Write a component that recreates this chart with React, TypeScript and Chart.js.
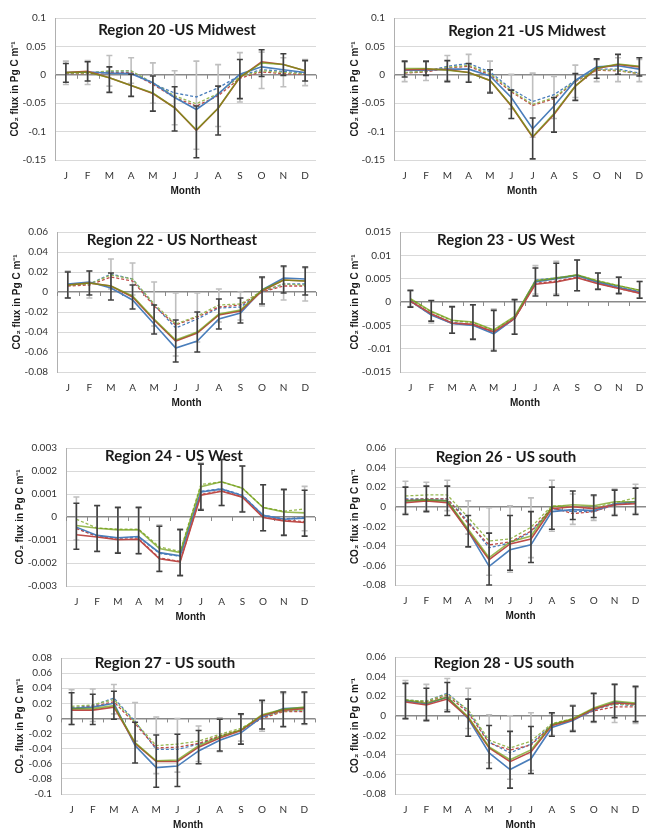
import React, { useEffect, useRef } from "react";
import { Chart, registerables } from "chart.js";
Chart.register(...registerables);

const months = ["J", "F", "M", "A", "M", "J", "J", "A", "S", "O", "N", "D"];

// Region 20
const r20SolidBlue = [0.004, 0.005, 0.003, 0.002, -0.014, -0.040, -0.061, -0.034, 0.001, 0.014, 0.009, 0.004];
const r20SolidRed = [0.004, 0.006, -0.005, -0.019, -0.033, -0.058, -0.098, -0.059, -0.005, 0.023, 0.018, 0.007];
const r20SolidGreen = [0.004, 0.005, -0.005, -0.019, -0.032, -0.058, -0.097, -0.059, -0.004, 0.021, 0.018, 0.007];
const r20DashBlue = [0.002, 0.003, 0.006, 0.007, -0.016, -0.032, -0.039, -0.023, -0.001, 0.009, 0.006, 0.003];
const r20DashRed = [0.002, 0.002, 0.004, 0.004, -0.017, -0.040, -0.055, -0.037, -0.006, 0.005, 0.002, 0.001];
const r20DashGreen = [0.003, 0.003, 0.007, 0.007, -0.014, -0.037, -0.051, -0.033, -0.003, 0.007, 0.004, 0.002];
const r20DarkLo = [-0.013, -0.011, -0.031, -0.038, -0.064, -0.099, -0.146, -0.106, -0.042, -0.003, -0.001, -0.011];
const r20DarkHi = [0.020, 0.023, 0.014, 0.001, -0.002, -0.021, -0.055, -0.020, 0.027, 0.044, 0.037, 0.025];
const r20LightLo = [-0.017, -0.017, -0.020, -0.015, -0.050, -0.088, -0.131, -0.091, -0.048, -0.024, -0.021, -0.019];
const r20LightHi = [0.024, 0.025, 0.034, 0.030, 0.021, 0.007, 0.024, 0.018, 0.039, 0.040, 0.030, 0.027];

// Region 21
const r21SolidBlue = [0.008, 0.008, 0.010, 0.010, -0.002, -0.040, -0.095, -0.055, -0.010, 0.014, 0.016, 0.010];
const r21SolidRed = [0.009, 0.010, 0.009, 0.004, -0.010, -0.055, -0.110, -0.070, -0.020, 0.011, 0.018, 0.014];
const r21SolidGreen = [0.011, 0.011, 0.008, 0.004, -0.010, -0.054, -0.109, -0.068, -0.020, 0.012, 0.019, 0.015];
const r21DashBlue = [0.004, 0.006, 0.015, 0.020, 0.005, -0.025, -0.047, -0.035, -0.010, 0.010, 0.010, 0.003];
const r21DashRed = [0.003, 0.005, 0.012, 0.015, 0.000, -0.030, -0.054, -0.042, -0.012, 0.008, 0.007, 0.002];
const r21DashGreen = [0.004, 0.006, 0.013, 0.017, 0.002, -0.028, -0.052, -0.040, -0.011, 0.009, 0.008, 0.002];
const r21DarkLo = [-0.004, -0.001, -0.012, -0.013, -0.032, -0.077, -0.148, -0.101, -0.045, -0.006, 0.001, -0.002];
const r21DarkHi = [0.024, 0.024, 0.025, 0.020, 0.009, -0.027, -0.076, -0.040, 0.002, 0.028, 0.036, 0.030];
const r21LightLo = [-0.012, -0.010, -0.010, -0.012, -0.030, -0.060, -0.110, -0.077, -0.040, -0.012, -0.012, -0.012];
const r21LightHi = [0.022, 0.022, 0.034, 0.036, 0.024, 0.001, 0.003, -0.003, 0.017, 0.026, 0.030, 0.027];

// Region 22
const r22SolidBlue = [0.008, 0.010, 0.004, -0.008, -0.032, -0.056, -0.049, -0.027, -0.021, 0.002, 0.014, 0.013];
const r22SolidRed = [0.007, 0.009, 0.006, -0.005, -0.028, -0.049, -0.041, -0.023, -0.019, 0.001, 0.012, 0.011];
const r22SolidGreen = [0.007, 0.009, 0.006, -0.004, -0.027, -0.048, -0.040, -0.022, -0.018, 0.002, 0.012, 0.011];
const r22DashBlue = [0.007, 0.008, 0.018, 0.013, -0.013, -0.036, -0.027, -0.016, -0.015, 0.000, 0.008, 0.008];
const r22DashRed = [0.006, 0.007, 0.015, 0.011, -0.014, -0.033, -0.025, -0.015, -0.013, 0.000, 0.006, 0.006];
const r22DashGreen = [0.007, 0.008, 0.017, 0.013, -0.012, -0.032, -0.024, -0.013, -0.012, 0.001, 0.008, 0.007];
const r22DarkLo = [-0.006, -0.003, -0.008, -0.017, -0.042, -0.070, -0.060, -0.037, -0.031, -0.012, -0.001, -0.003];
const r22DarkHi = [0.020, 0.021, 0.019, 0.007, -0.013, -0.028, -0.020, -0.007, -0.006, 0.015, 0.026, 0.025];
const r22LightLo = [-0.006, -0.006, 0.003, -0.003, -0.034, -0.064, -0.050, -0.030, -0.028, -0.014, -0.008, -0.009];
const r22LightHi = [0.021, 0.021, 0.033, 0.029, 0.010, -0.001, -0.001, 0.003, 0.000, 0.014, 0.025, 0.024];

// Region 23
const r23SolidBlue = [0.0002, -0.0028, -0.0046, -0.0050, -0.0068, -0.0035, 0.0043, 0.0050, 0.0057, 0.0042, 0.0031, 0.0021];
const r23SolidRed = [0.0002, -0.0025, -0.0045, -0.0048, -0.0064, -0.0035, 0.0038, 0.0043, 0.0052, 0.0039, 0.0029, 0.0019];
const r23SolidGreen = [0.0007, -0.0020, -0.0039, -0.0043, -0.0060, -0.0031, 0.0045, 0.0051, 0.0058, 0.0045, 0.0035, 0.0025];
const r23DashBlue = [0.0004, -0.0026, -0.0044, -0.0048, -0.0066, -0.0034, 0.0047, 0.0052, 0.0057, 0.0043, 0.0033, 0.0022];
const r23DashRed = [0.0001, -0.0027, -0.0046, -0.0049, -0.0066, -0.0036, 0.0040, 0.0045, 0.0053, 0.0040, 0.0029, 0.0019];
const r23DashGreen = [0.0006, -0.0021, -0.0040, -0.0044, -0.0061, -0.0032, 0.0046, 0.0052, 0.0058, 0.0045, 0.0035, 0.0025];
const r23DarkLo = [-0.0011, -0.0041, -0.0067, -0.0080, -0.0105, -0.0069, 0.0013, 0.0014, 0.0024, 0.0027, 0.0018, 0.0008];
const r23DarkHi = [0.0025, 0.0003, -0.0010, -0.0006, -0.0018, 0.0005, 0.0073, 0.0083, 0.0090, 0.0062, 0.0053, 0.0044];
const r23LightLo = [-0.0010, -0.0045, -0.0066, -0.0079, -0.0103, -0.0068, 0.0017, 0.0017, 0.0024, 0.0028, 0.0019, 0.0009];
const r23LightHi = [0.0024, 0.0002, -0.0011, -0.0007, -0.0015, 0.0005, 0.0078, 0.0087, 0.0090, 0.0062, 0.0054, 0.0044];

// Region 24
const r24SolidBlue = [-0.00044, -0.0008, -0.0009, -0.00085, -0.00155, -0.00169, 0.00109, 0.00121, 0.00093, 0.00007, -0.0001, -0.00005];
const r24SolidRed = [-0.00077, -0.00087, -0.00099, -0.00097, -0.00182, -0.00195, 0.00095, 0.00112, 0.00086, -0.00002, -0.00017, -0.00024];
const r24SolidGreen = [-0.00037, -0.00049, -0.00056, -0.00056, -0.00137, -0.00155, 0.00132, 0.00153, 0.00125, 0.00041, 0.00022, 0.00018];
const r24DashBlue = [-0.0005, -0.00082, -0.00092, -0.00087, -0.00158, -0.00171, 0.00112, 0.00123, 0.00095, 0.00008, -0.00008, -0.00003];
const r24DashRed = [-0.0005, -0.00085, -0.00097, -0.00095, -0.00178, -0.00193, 0.00098, 0.00114, 0.00088, 0.0, -0.00014, -0.0002];
const r24DashGreen = [-0.0001, -0.00048, -0.00053, -0.00053, -0.0013, -0.0015, 0.00142, 0.00152, 0.00126, 0.00042, 0.00025, 0.00035];
const r24DarkLo = [-0.0014, -0.0015, -0.00157, -0.0016, -0.00237, -0.00255, 0.0003, 0.0005, 0.00022, -0.0006, -0.0008, -0.00083];
const r24DarkHi = [0.0006, 0.0005, 0.00042, 0.00042, -0.0004, -0.00055, 0.0023, 0.0025, 0.00222, 0.0014, 0.0012, 0.00116];
const r24LightLo = [-0.001, -0.00148, -0.00155, -0.00158, -0.00235, -0.00253, 0.00035, 0.0005, 0.00024, -0.0006, -0.00078, -0.0006];
const r24LightHi = [0.00087, 0.00048, 0.0004, 0.0004, -0.00035, -0.00052, 0.00235, 0.0025, 0.00222, 0.0014, 0.00118, 0.00133];

// Region 26
const r26SolidBlue = [0.006, 0.007, 0.006, -0.025, -0.061, -0.044, -0.039, -0.005, -0.003, -0.004, 0.003, 0.005];
const r26SolidRed = [0.004, 0.006, 0.004, -0.025, -0.054, -0.038, -0.033, -0.002, 0.0, -0.002, 0.002, 0.003];
const r26SolidGreen = [0.006, 0.007, 0.006, -0.023, -0.052, -0.036, -0.030, 0.0, 0.002, 0.001, 0.005, 0.005];
const r26DashBlue = [0.008, 0.008, 0.008, -0.015, -0.042, -0.037, -0.026, -0.002, -0.005, -0.005, 0.002, 0.004];
const r26DashRed = [0.007, 0.008, 0.008, -0.017, -0.039, -0.036, -0.025, -0.001, -0.007, -0.005, 0.002, 0.004];
const r26DashGreen = [0.011, 0.012, 0.012, -0.011, -0.035, -0.033, -0.021, 0.001, 0.0, -0.001, 0.004, 0.009];
const r26DarkLo = [-0.008, -0.005, -0.009, -0.041, -0.080, -0.065, -0.057, -0.023, -0.013, -0.011, -0.009, -0.008];
const r26DarkHi = [0.020, 0.021, 0.021, -0.009, -0.027, -0.009, -0.005, 0.020, 0.016, 0.012, 0.017, 0.019];
const r26LightLo = [-0.007, -0.004, -0.004, -0.028, -0.070, -0.067, -0.052, -0.025, -0.018, -0.014, -0.008, -0.007];
const r26LightHi = [0.026, 0.025, 0.027, 0.006, -0.001, 0.001, 0.009, 0.027, 0.013, 0.011, 0.018, 0.023];

// Region 27
const r27SolidBlue = [0.013, 0.015, 0.020, -0.036, -0.065, -0.063, -0.043, -0.029, -0.019, 0.002, 0.013, 0.014];
const r27SolidRed = [0.011, 0.011, 0.015, -0.033, -0.057, -0.057, -0.038, -0.026, -0.016, 0.004, 0.011, 0.013];
const r27SolidGreen = [0.013, 0.013, 0.017, -0.032, -0.056, -0.055, -0.036, -0.024, -0.015, 0.005, 0.012, 0.015];
const r27DashBlue = [0.014, 0.017, 0.027, -0.004, -0.041, -0.041, -0.034, -0.024, -0.016, 0.001, 0.010, 0.010];
const r27DashRed = [0.013, 0.016, 0.022, -0.007, -0.039, -0.038, -0.033, -0.023, -0.015, 0.0, 0.009, 0.009];
const r27DashGreen = [0.016, 0.018, 0.025, -0.005, -0.036, -0.034, -0.030, -0.021, -0.013, 0.002, 0.010, 0.011];
const r27DarkLo = [-0.008, -0.008, -0.001, -0.059, -0.091, -0.090, -0.060, -0.043, -0.034, -0.014, -0.011, -0.007];
const r27DarkHi = [0.034, 0.032, 0.036, -0.005, -0.022, -0.021, -0.016, -0.001, 0.006, 0.024, 0.035, 0.035];
const r27LightLo = [-0.008, -0.004, 0.006, -0.030, -0.073, -0.071, -0.057, -0.044, -0.030, -0.017, -0.010, -0.008];
const r27LightHi = [0.038, 0.039, 0.045, 0.021, 0.002, 0.0, -0.010, 0.001, 0.005, 0.022, 0.033, 0.034];

// Region 28
const r28SolidBlue = [0.015, 0.012, 0.019, -0.003, -0.038, -0.055, -0.044, -0.012, -0.005, 0.006, 0.014, 0.012];
const r28SolidRed = [0.014, 0.011, 0.017, -0.002, -0.033, -0.047, -0.037, -0.010, -0.004, 0.007, 0.013, 0.012];
const r28SolidGreen = [0.016, 0.013, 0.019, -0.001, -0.032, -0.045, -0.035, -0.009, -0.003, 0.008, 0.015, 0.013];
const r28DashBlue = [0.016, 0.015, 0.023, 0.005, -0.027, -0.038, -0.029, -0.009, -0.004, 0.006, 0.012, 0.010];
const r28DashRed = [0.015, 0.014, 0.021, 0.003, -0.028, -0.035, -0.030, -0.010, -0.004, 0.005, 0.009, 0.009];
const r28DashGreen = [0.016, 0.015, 0.022, 0.006, -0.025, -0.033, -0.026, -0.008, -0.003, 0.007, 0.012, 0.011];
const r28DarkLo = [-0.003, -0.005, 0.004, -0.021, -0.054, -0.074, -0.059, -0.021, -0.016, -0.006, -0.002, -0.006];
const r28DarkHi = [0.033, 0.028, 0.034, 0.017, -0.010, -0.016, -0.011, 0.003, 0.010, 0.023, 0.032, 0.030];
const r28LightLo = [-0.003, -0.004, 0.006, -0.013, -0.048, -0.065, -0.056, -0.020, -0.015, -0.007, -0.007, -0.008];
const r28LightHi = [0.036, 0.032, 0.038, 0.028, 0.001, 0.0, 0.003, 0.002, 0.011, 0.022, 0.032, 0.029];

const titles = [
  "Region 20 -US Midwest",
  "Region 21 -US Midwest",
  "Region 22 - US Northeast",
  "Region 23 - US West",
  "Region 24 - US West",
  "Region 26 - US south",
  "Region 27 - US south",
  "Region 28 - US south",
];
const yMins = [-0.15, -0.15, -0.08, -0.015, -0.003, -0.08, -0.1, -0.08];
const yMaxs = [0.1, 0.1, 0.06, 0.015, 0.003, 0.06, 0.08, 0.06];
const ySteps = [0.05, 0.05, 0.02, 0.005, 0.001, 0.02, 0.02, 0.02];

const seriesData = [
  [r20SolidBlue, r20SolidRed, r20SolidGreen, r20DashBlue, r20DashRed, r20DashGreen, r20DarkLo, r20DarkHi, r20LightLo, r20LightHi],
  [r21SolidBlue, r21SolidRed, r21SolidGreen, r21DashBlue, r21DashRed, r21DashGreen, r21DarkLo, r21DarkHi, r21LightLo, r21LightHi],
  [r22SolidBlue, r22SolidRed, r22SolidGreen, r22DashBlue, r22DashRed, r22DashGreen, r22DarkLo, r22DarkHi, r22LightLo, r22LightHi],
  [r23SolidBlue, r23SolidRed, r23SolidGreen, r23DashBlue, r23DashRed, r23DashGreen, r23DarkLo, r23DarkHi, r23LightLo, r23LightHi],
  [r24SolidBlue, r24SolidRed, r24SolidGreen, r24DashBlue, r24DashRed, r24DashGreen, r24DarkLo, r24DarkHi, r24LightLo, r24LightHi],
  [r26SolidBlue, r26SolidRed, r26SolidGreen, r26DashBlue, r26DashRed, r26DashGreen, r26DarkLo, r26DarkHi, r26LightLo, r26LightHi],
  [r27SolidBlue, r27SolidRed, r27SolidGreen, r27DashBlue, r27DashRed, r27DashGreen, r27DarkLo, r27DarkHi, r27LightLo, r27LightHi],
  [r28SolidBlue, r28SolidRed, r28SolidGreen, r28DashBlue, r28DashRed, r28DashGreen, r28DarkLo, r28DarkHi, r28LightLo, r28LightHi],
];

// layout geometry (absolute page px)
const geom = [
  { x0: 0, L: 55, R: 316, T: 15, B: 160, yt: 15, tx: 177, ty: 29 },
  { x0: 323, L: 394, R: 650, T: 15, B: 160, yt: 355, tx: 527, ty: 30 },
  { x0: 0, L: 57, R: 316, T: 229, B: 372, yt: 17, tx: 172, ty: 239 },
  { x0: 323, L: 400, R: 651, T: 229, B: 372, yt: 355, tx: 506, ty: 239 },
  { x0: 0, L: 66, R: 315, T: 445, B: 586, yt: 20, tx: 174, ty: 455 },
  { x0: 323, L: 395, R: 646, T: 445, B: 585, yt: 355, tx: 506, ty: 456 },
  { x0: 0, L: 61, R: 315, T: 655, B: 794, yt: 20, tx: 165, ty: 662 },
  { x0: 323, L: 395, R: 646, T: 654, B: 794, yt: 355, tx: 504, ty: 662 },
];

const BLUE = "#4A7EBB";
const RED = "#BE4B48";
const GREEN = "#98B954";
const GREEN_SOLID = "rgba(108,155,11,0.7)";

function drawBars(chart: any, lo: number[], hi: number[], color: string) {
  const ctx = chart.ctx;
  const xs = chart.scales.x;
  const ys = chart.scales.y;
  ctx.save();
  ctx.strokeStyle = color;
  ctx.lineWidth = 1.6;
  for (let i = 0; i < lo.length; i++) {
    const x = xs.getPixelForTick(i);
    const y1 = ys.getPixelForValue(lo[i]);
    const y2 = ys.getPixelForValue(hi[i]);
    ctx.beginPath();
    ctx.moveTo(x, y1);
    ctx.lineTo(x, y2);
    ctx.moveTo(x - 3, y1);
    ctx.lineTo(x + 3, y1);
    ctx.moveTo(x - 3, y2);
    ctx.lineTo(x + 3, y2);
    ctx.stroke();
  }
  ctx.restore();
}

function Panel({ idx }: { idx: number }) {
  const ref = useRef<HTMLCanvasElement>(null);
  const g = geom[idx];
  const y0 = g.T - 12;
  const w = g.x0 === 0 ? 322 : 330;
  const h = g.B + 40 - y0;
  useEffect(() => {
    const d = seriesData[idx];
    const plugin = {
      id: "errbars" + idx,
      beforeDatasetsDraw(chart: any) {
        const ctx = chart.ctx;
        const ys = chart.scales.y;
        const yz = ys.getPixelForValue(0);
        const a = chart.chartArea;
        ctx.save();
        ctx.strokeStyle = "#8a8a8a";
        ctx.lineWidth = 1;
        for (let i = 0; i <= 12; i++) {
          const x = Math.round(a.left + (i * (a.right - a.left)) / 12) + 0.5;
          ctx.beginPath();
          ctx.moveTo(x, yz);
          ctx.lineTo(x, yz + 4);
          ctx.stroke();
        }
        ctx.restore();
        drawBars(chart, d[8], d[9], "#BFBFBF");
      },
      afterDatasetsDraw(chart: any) {
        drawBars(chart, d[6], d[7], "#404040");
      },
    };
    const line = (data: number[], color: string, dashed: boolean) => ({
      data,
      borderColor: color,
      backgroundColor: color,
      borderWidth: dashed ? 1.3 : 1.6,
      borderDash: dashed ? [3, 2] : [],
      pointRadius: 0,
      fill: false,
      tension: 0,
    });
    const chart = new Chart(ref.current as HTMLCanvasElement, {
      type: "line",
      data: {
        labels: months,
        datasets: [
          line(d[2], GREEN_SOLID, false),
          line(d[1], RED, false),
          line(d[0], BLUE, false),
          line(d[5], GREEN, true),
          line(d[4], RED, true),
          line(d[3], BLUE, true),
        ],
      },
      options: {
        animation: false,
        responsive: false,
        devicePixelRatio: 1,
        layout: { padding: { left: 0, top: g.T - y0, right: g.x0 + w - g.R, bottom: 0 } },
        plugins: { legend: { display: false }, tooltip: { enabled: false }, title: { display: false } },
        scales: {
          x: {
            type: "category",
            offset: true,
            grid: { display: false, drawTicks: false },
            border: { display: false },
            ticks: { color: "#333", font: { family: "Lato", size: 10 }, padding: 9.5, maxRotation: 0, autoSkip: false },
            title: {
              display: true,
              text: "Month",
              color: "#1a1a1a",
              font: { family: "Liberation Sans", size: 10, weight: "bold" },
              padding: { top: 0, bottom: 3 },
            },
            afterFit: (s: any) => {
              s.height = y0 + h - g.B;
            },
          },
          y: {
            min: yMins[idx],
            max: yMaxs[idx],
            ticks: {
              stepSize: ySteps[idx],
              color: "#333",
              font: { family: "Lato", size: 10 },
              padding: 9,
              callback: (v: any) => String(parseFloat(Number(v).toFixed(6))),
            },
            grid: {
              drawTicks: false,
              color: (c: any) => (c.tick && Math.abs(c.tick.value) < 1e-9 ? "#8a8a8a" : "#d9d9d9"),
              lineWidth: (c: any) => (c.tick && Math.abs(c.tick.value) < 1e-9 ? 1.5 : 1),
            },
            border: { display: true, color: "#b0b0b0" },
            title: {
              display: true,
              text: "CO\u2082 flux in Pg C m\u207B\u00B9",
              color: "#1a1a1a",
              font: { family: "Liberation Sans", size: 10, weight: "bold" },
              padding: { top: g.yt - g.x0 - 6, bottom: 0 },
            },
            afterFit: (s: any) => {
              s.width = g.L - g.x0;
            },
          },
        },
      },
      plugins: [plugin],
    } as any);
    return () => chart.destroy();
  }, [idx]);
  return (
    <>
      <canvas
        ref={ref}
        width={w}
        height={h}
        style={{ position: "absolute", left: g.x0, top: y0, width: w, height: h }}
      />
      <div
        style={{
          position: "absolute",
          left: g.tx,
          top: g.ty,
          transform: "translate(-50%, -50%)",
          whiteSpace: "nowrap",
          fontFamily: "Lato, sans-serif",
          fontWeight: 700,
          fontSize: 15,
          color: "#1a1a1a",
          lineHeight: 1,
        }}
      >
        {titles[idx]}
      </div>
    </>
  );
}

export default function App() {
  return (
    <div
      style={{
        position: "fixed",
        left: 0,
        top: 0,
        width: 646,
        height: 828,
        overflow: "hidden",
        background: "#fff",
      }}
    >
      {geom.map((_, i) => (
        <Panel key={i} idx={i} />
      ))}
    </div>
  );
}
